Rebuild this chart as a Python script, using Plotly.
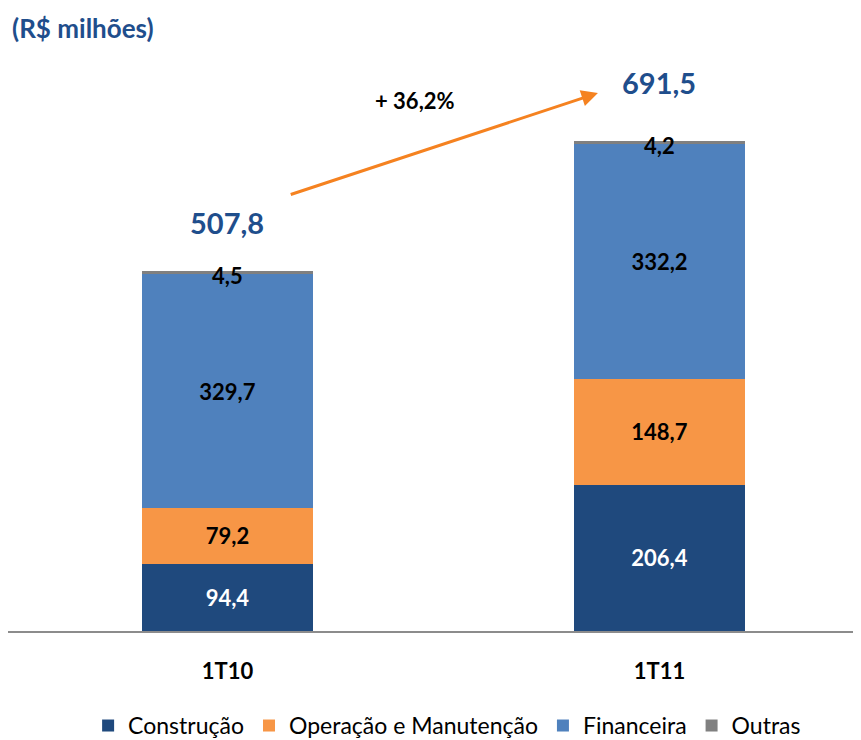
import plotly.graph_objects as go

categories = ["1T10", "1T11"]
construcao = [94.4, 206.4]
operacao = [79.2, 148.7]
financeira = [329.7, 332.2]
outras = [4.5, 4.2]
totals = [507.8, 691.5]
growth_label = "+ 36,2%"

def fmt(v):
    return f"{v:.1f}".replace(".", ",")

xpos = [0, 1]
BW = 0.396
FONT = "Lato"

fig = go.Figure()
series = [
    ("Construção", construcao, "#1F497D", "white"),
    ("Operação e Manutenção", operacao, "#F79646", "black"),
    ("Financeira", financeira, "#4F81BD", "black"),
]
for name, vals, col, tcol in series:
    fig.add_trace(go.Bar(
        x=xpos, y=vals, name=name, width=BW, marker=dict(color=col, line=dict(width=0)),
        text=[fmt(v) for v in vals], textposition="inside", insidetextanchor="middle",
        textangle=0,
        textfont=dict(color=tcol, size=22, family=FONT, weight="bold"),
        hoverinfo="skip",
    ))
fig.add_trace(go.Bar(
    x=xpos, y=outras, name="Outras", width=BW, marker=dict(color="#808080", line=dict(width=0)),
    hoverinfo="skip", textposition="none",
))

annotations = []
# Outras labels
for i in range(2):
    annotations.append(dict(x=xpos[i], y=totals[i], xref="x", yref="y", text=fmt(outras[i]),
                            showarrow=False, yanchor="middle", yshift=-5,
                            font=dict(size=22, family=FONT, color="black", weight="bold")))
# totals
tot_shift = [48, 58]
for i in range(2):
    annotations.append(dict(x=xpos[i], y=totals[i], xref="x", yref="y", text=fmt(totals[i]),
                            showarrow=False, yanchor="middle", yshift=tot_shift[i],
                            font=dict(size=29, family=FONT, color="#1F4E8C", weight="bold")))
# arrow
annotations.append(dict(x=0.8576, y=758.8, ax=0.143, ay=615, xref="x", yref="y",
                        axref="x", ayref="y", text="", showarrow=True,
                        arrowhead=2, arrowsize=1.1, arrowwidth=3, arrowcolor="#F58220"))
annotations.append(dict(x=(415 - 227.5) / 432, y=(631 - 100) / 0.709, xref="x", yref="y",
                        text=growth_label, showarrow=False,
                        font=dict(size=22, family=FONT, color="black", weight="bold")))
# title
annotations.append(dict(x=0, y=1, xref="paper", yref="paper", xanchor="left", yanchor="top",
                        text="(R$ milhões)", showarrow=False, xshift=2, yshift=30,
                        font=dict(size=26, family=FONT, color="#1F4E8C", weight="bold")))

fig.update_layout(
    barmode="stack",
    width=861, height=740,
    margin=dict(l=0, r=0, t=32, b=117, autoexpand=False),
    paper_bgcolor="white", plot_bgcolor="white",
    font=dict(family=FONT),
    showlegend=True,
    legend=dict(orientation="h", x=0.51, xanchor="center", y=-0.16, yanchor="middle",
                font=dict(size=23, family=FONT, color="black"),
                itemwidth=30, traceorder="normal", tracegroupgap=0),
    annotations=annotations,
    xaxis=dict(range=[-0.508, 1.485], tickmode="array", tickvals=xpos, ticktext=categories,
               showline=True, linecolor="#8C8C8C", linewidth=2, showgrid=False, zeroline=False,
               ticks="", ticklabelstandoff=20,
               tickfont=dict(size=22, family=FONT, color="black", weight="bold")),
    yaxis=dict(range=[0, 833.6], visible=False, showgrid=False),
)

fig.write_html("out.html")
